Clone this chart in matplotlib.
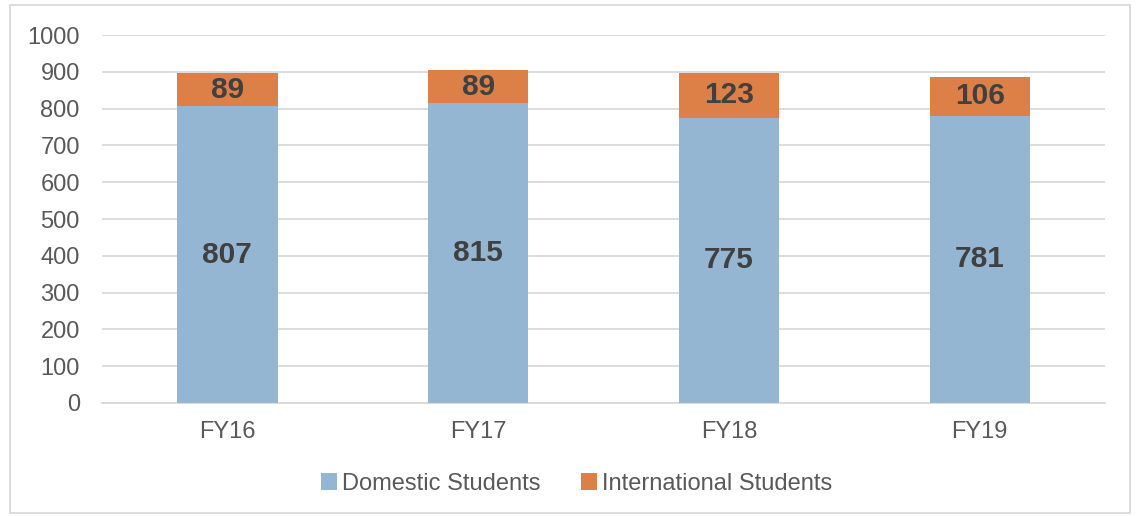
import matplotlib.pyplot as plt
from matplotlib.patches import Rectangle

years = ["FY16", "FY17", "FY18", "FY19"]
domestic = [807, 815, 775, 781]
international = [89, 89, 123, 106]

plt.rcParams['font.family'] = ['Liberation Sans', 'DejaVu Sans']

fig = plt.figure(figsize=(11.37, 5.16), dpi=100)
ax = fig.add_axes([0.0897, 0.219, 0.8822, 0.713])

x = range(len(years))
b1 = ax.bar(x, domestic, width=0.4, color="#94B6D2", label="Domestic Students", zorder=3)
b2 = ax.bar(x, international, width=0.4, bottom=domestic, color="#DD8047",
            label="International Students", zorder=3)

# labels in the middle of each segment
for i in x:
    ax.text(i, domestic[i] / 2, str(domestic[i]), ha="center", va="center",
            fontsize=21.5, fontweight="bold", color="#404040", zorder=4)
    ax.text(i, domestic[i] + international[i] / 2, str(international[i]), ha="center",
            va="center", fontsize=21.5, fontweight="bold", color="#404040", zorder=4)

ax.set_xlim(-0.5, 3.5)
ax.set_ylim(0, 1000)
ax.set_yticks(range(0, 1001, 100))
ax.set_xticks(list(x))
ax.set_xticklabels(years)
ax.grid(axis="y", color="#D9D9D9", linewidth=1.3, zorder=0)
for s in ["top", "right", "left"]:
    ax.spines[s].set_visible(False)
ax.spines["bottom"].set_color("#D9D9D9")
ax.spines["bottom"].set_linewidth(1.3)
ax.tick_params(axis="both", length=0, labelsize=17, labelcolor="#595959")
ax.tick_params(axis="y", pad=16)
ax.tick_params(axis="x", pad=13)

leg = fig.legend(loc="center", bbox_to_anchor=(0.507, 0.062), ncol=2, frameon=False,
                 fontsize=17, handlelength=0.7, handleheight=0.7, handletextpad=0.2,
                 columnspacing=1.7, labelcolor="#595959")

fig.patches.append(Rectangle((10 / 1137, 3 / 516), 1120 / 1137, 508 / 516,
                             transform=fig.transFigure, fill=False,
                             edgecolor="#D9D9D9", linewidth=1.3))

fig.savefig("out.png", dpi=100)
